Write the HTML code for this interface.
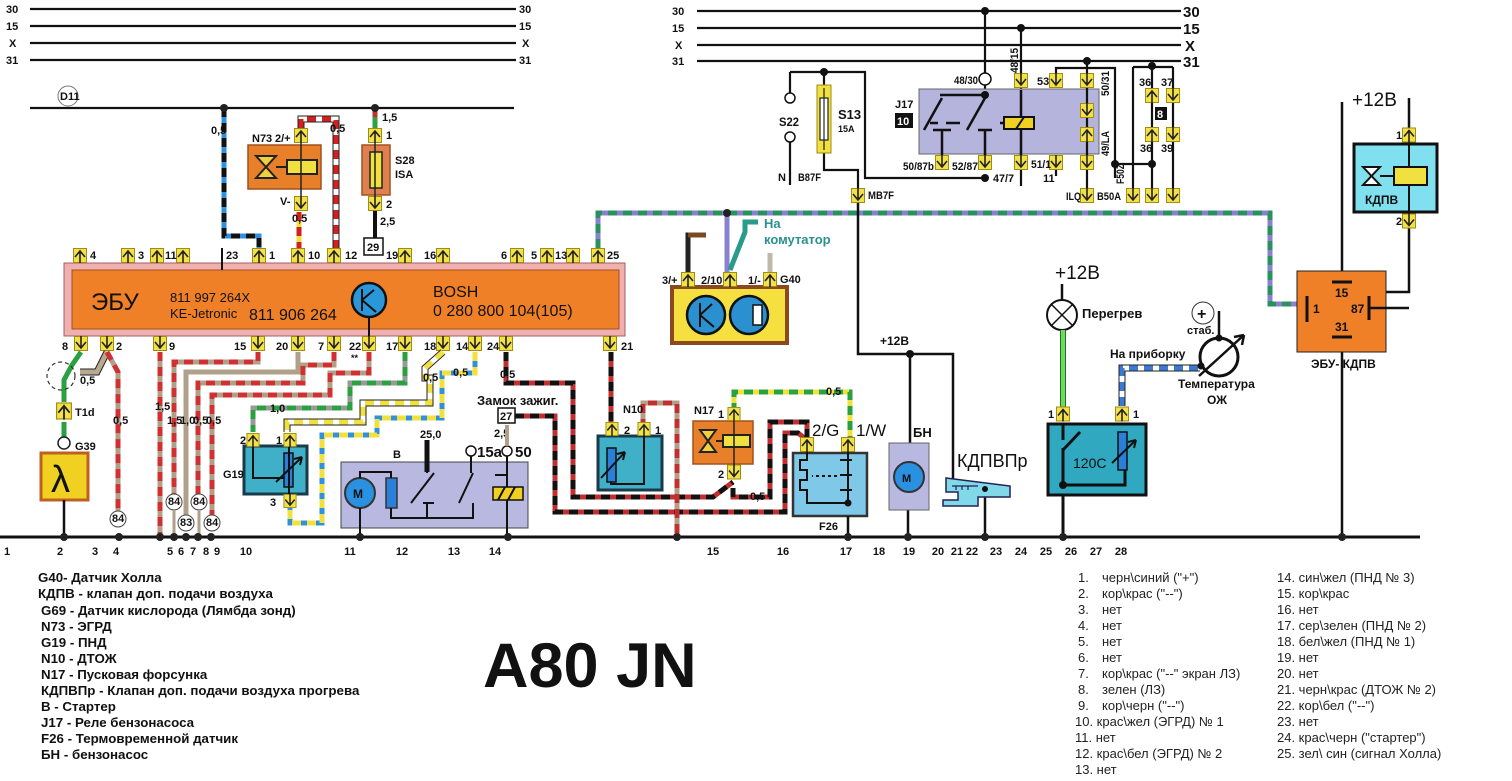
<!DOCTYPE html>
<html><head><meta charset="utf-8"><style>
html,body{margin:0;padding:0;background:#fff}
svg{display:block}
.a{fill:none;stroke-width:5}
.b{fill:none;stroke-width:5;stroke-dasharray:9 6}
.o{fill:none;stroke:#222;stroke-width:7}
.k{fill:none;stroke:#111;stroke-width:2.5}
.t{font-family:"Liberation Sans Narrow","Liberation Sans",sans-serif;font-weight:bold;font-size:11px;fill:#111}
.s{font-family:"Liberation Sans",sans-serif;fill:#111}
.lg{font-family:"Liberation Sans",sans-serif;font-weight:bold;font-size:13.3px;fill:#111}
.rg{font-family:"Liberation Sans",sans-serif;font-size:13px;fill:#222}
</style></head><body>
<svg width="1512" height="781" viewBox="0 0 1512 781" xmlns="http://www.w3.org/2000/svg">
<defs>
<symbol id="pu" viewBox="0 0 14 15"><rect x=".5" y=".5" width="13" height="14" fill="#f3e14a" stroke="#a08c10"/><path d="M2,9L7,3L12,9M7,3V15" stroke="#222" stroke-width="1.6" fill="none"/></symbol>
<symbol id="pd" viewBox="0 0 14 15"><rect x=".5" y=".5" width="13" height="14" fill="#f3e14a" stroke="#a08c10"/><path d="M2,6L7,12L12,6M7,0V12" stroke="#222" stroke-width="1.6" fill="none"/></symbol>
</defs>
<rect width="1512" height="781" fill="#fff"/>

<!-- top-left bus -->
<path d="M30,9H516M30,26H516M30,43H516M30,60H516M30,108H514" stroke="#111" stroke-width="2.2"/>
<g class="t"><text x="6" y="13">30</text><text x="6" y="30">15</text><text x="9" y="47">X</text><text x="6" y="64">31</text>
<text x="519" y="13">30</text><text x="519" y="30">15</text><text x="522" y="47">X</text><text x="519" y="64">31</text></g>
<circle cx="68" cy="96" r="10" fill="none" stroke="#777" stroke-width="1"/><text x="60" y="100" class="t" font-size="10">D11</text>

<!-- top-right bus -->
<path d="M697,11H1181M697,28H1181M697,45H1181M697,61H1181" stroke="#111" stroke-width="2.2"/>
<g class="t"><text x="672" y="15">30</text><text x="672" y="32">15</text><text x="675" y="49">X</text><text x="672" y="65">31</text></g>
<g class="s" font-weight="bold" font-size="15"><text x="1183" y="17">30</text><text x="1183" y="34">15</text><text x="1185" y="51">X</text><text x="1183" y="67">31</text></g>

<!-- wires near ECU top -->
<path class="a" stroke="#3090e0" d="M224,108V236H259V248"/><path class="b" stroke="#111" d="M224,108V236H259V248"/>
<circle cx="224" cy="108" r="4" fill="#222"/>
<path class="o" d="M301,128V119H336V248"/><path class="a" stroke="#fff" d="M301,128V119H336V248"/><path class="b" stroke="#d02020" d="M301,128V119H336V248"/>
<path class="a" stroke="#f0e040" d="M299,212V248"/><path class="b" stroke="#d02020" d="M299,212V248"/>
<path class="a" stroke="#30a040" d="M375,108V128"/><path class="b" stroke="#c03030" d="M375,108V120"/>
<circle cx="375" cy="108" r="4" fill="#222"/>
<path d="M375,211V238" stroke="#111" stroke-width="4"/>
<text x="211" y="134" class="t" font-size="9">0,5</text><text x="330" y="132" class="t" font-size="9">0,5</text>
<text x="292" y="222" class="t" font-size="9">0,5</text><text x="382" y="121" class="t" font-size="9">1,5</text><text x="380" y="225" class="t" font-size="9">2,5</text>

<!-- N73 -->
<rect x="248" y="145" width="73" height="44" fill="#e8802a" stroke="#a05020" stroke-width="1.5"/>
<path d="M256,156L276,178H256L276,156Z" fill="#f0d040" stroke="#222" stroke-width="2"/>
<path d="M276,167H287" stroke="#222" stroke-width="2"/>
<rect x="287" y="160" width="30" height="14" fill="#f0e040" stroke="#222" stroke-width="2"/>
<path d="M301,142V196" stroke="#222" stroke-width="1.5"/>
<use href="#pu" x="294" y="128" width="14" height="15"/><use href="#pd" x="294" y="196" width="14" height="15"/>
<text x="252" y="142" class="t" font-size="12">N73</text><text x="275" y="142" class="t">2/+</text><text x="280" y="205" class="t">V-</text>
<!-- S28 -->
<rect x="362" y="145" width="28" height="50" fill="#e08050" stroke="#a05020" stroke-width="1.5"/>
<rect x="370" y="152" width="12" height="36" fill="#f0e040" stroke="#222" stroke-width="1.5"/>
<path d="M375,140V200" stroke="#222" stroke-width="1.5"/>
<use href="#pu" x="368" y="128" width="14" height="15"/><use href="#pd" x="368" y="196" width="14" height="15"/>
<text x="386" y="139" class="t">1</text><text x="386" y="208" class="t">2</text>
<text x="395" y="164" class="t" font-size="13">S28</text><text x="395" y="178" class="t" font-size="9">ISA</text>
<rect x="364" y="238" width="19" height="17" fill="#fff" stroke="#111" stroke-width="1.5"/><text x="367" y="251" class="t">29</text>

<!-- ECU -->
<rect x="64" y="263" width="561" height="73" fill="#f0b0b0" stroke="#a06060" stroke-width="1"/>
<rect x="72" y="270" width="547" height="59" fill="#f08028" stroke="#a05020" stroke-width="1"/>
<path d="M222,248V270" stroke="#111" stroke-width="2"/>
<g>
<use href="#pu" x="73" y="248" width="14" height="15"/><use href="#pu" x="121" y="248" width="14" height="15"/>
<use href="#pu" x="150" y="248" width="14" height="15"/><use href="#pu" x="176" y="248" width="14" height="15"/>
<use href="#pu" x="252" y="248" width="14" height="15"/><use href="#pu" x="291" y="248" width="14" height="15"/>
<use href="#pu" x="327" y="248" width="14" height="15"/><use href="#pu" x="398" y="248" width="14" height="15"/>
<use href="#pu" x="436" y="248" width="14" height="15"/><use href="#pu" x="510" y="248" width="14" height="15"/>
<use href="#pu" x="540" y="248" width="14" height="15"/><use href="#pu" x="566" y="248" width="14" height="15"/>
<use href="#pu" x="591" y="248" width="14" height="15"/>
</g>
<g class="t" font-size="12">
<text x="90" y="259">4</text><text x="138" y="259">3</text><text x="165" y="259">11</text><text x="226" y="259">23</text>
<text x="269" y="259">1</text><text x="308" y="259">10</text><text x="345" y="259">12</text><text x="386" y="259">19</text>
<text x="424" y="259">16</text><text x="501" y="259">6</text><text x="531" y="259">5</text><text x="555" y="259">13</text><text x="607" y="259">25</text>
</g>
<g>
<use href="#pd" x="74" y="336" width="14" height="15"/><use href="#pd" x="100" y="336" width="14" height="15"/>
<use href="#pd" x="153" y="336" width="14" height="15"/><use href="#pd" x="251" y="336" width="14" height="15"/>
<use href="#pd" x="291" y="336" width="14" height="15"/><use href="#pd" x="327" y="336" width="14" height="15"/>
<use href="#pd" x="362" y="336" width="14" height="15"/><use href="#pd" x="398" y="336" width="14" height="15"/>
<use href="#pd" x="436" y="336" width="14" height="15"/><use href="#pd" x="468" y="336" width="14" height="15"/>
<use href="#pd" x="499" y="336" width="14" height="15"/><use href="#pd" x="603" y="336" width="14" height="15"/>
</g>
<g class="t" font-size="12">
<text x="62" y="350">8</text><text x="116" y="350">2</text><text x="169" y="350">9</text><text x="234" y="350">15</text>
<text x="276" y="350">20</text><text x="318" y="350">7</text><text x="349" y="350">22</text><text x="386" y="350">17</text>
<text x="424" y="350">18</text><text x="456" y="350">14</text><text x="487" y="350">24</text><text x="621" y="350">21</text>
<text x="351" y="361" font-size="9">**</text>
</g>
<text x="91" y="310" class="s" font-size="24">ЭБУ</text>
<text x="170" y="302" class="s" font-size="13">811 997 264X</text>
<text x="170" y="318" class="s" font-size="13">KE-Jetronic</text>
<text x="249" y="320" class="s" font-size="16">811 906 264</text>
<text x="433" y="297" class="s" font-size="16">BOSH</text>
<text x="433" y="316" class="s" font-size="16">0 280 800 104(105)</text>
<circle cx="369" cy="300" r="17" fill="#2a98d8" stroke="#111" stroke-width="2.5"/>
<path d="M362,289V311M362,300L374,290M362,300L376,312" stroke="#111" stroke-width="2" fill="none"/>
<path d="M369,317V336" stroke="#111" stroke-width="2"/>

<!-- Left-bottom wires -->
<path d="M81,352L72,365L64,380V402" class="a" stroke="#2aa040"/>
<path d="M64,422V438" class="a" stroke="#2aa040"/>
<circle cx="61" cy="376" r="14" fill="none" stroke="#333" stroke-width="1.2" stroke-dasharray="4 3"/>
<use href="#pu" x="56" y="400" width="16" height="22"/>
<text x="75" y="416" class="t" font-size="12">T1d</text>
<circle cx="64" cy="443" r="6" fill="#fff" stroke="#222" stroke-width="1.5"/>
<text x="75" y="450" class="t" font-size="13">G39</text>
<rect x="41" y="453" width="47" height="47" fill="#f0d020" stroke="#c06020" stroke-width="3"/>
<text x="51" y="492" class="s" font-size="38">λ</text>
<path d="M64,500V537" stroke="#111" stroke-width="2.5"/>

<path class="o" d="M107,352L97,372H80" stroke-width="6"/><path class="a" stroke="#b8a890" stroke-width="4" d="M107,352L97,372H80"/>
<path class="a" stroke="#b0a08a" d="M107,352L118,372V511"/><path class="b" stroke="#d03030" d="M107,352L118,372V511"/>
<text x="80" y="384" class="t" font-size="9">0,5</text><text x="113" y="424" class="t" font-size="9">0,5</text>
<path class="a" stroke="#b0a08a" d="M160,352V537"/><path class="b" stroke="#d03030" d="M160,352V537"/>
<path class="a" stroke="#b0a08a" d="M258,352V362H174V494"/><path class="b" stroke="#d03030" d="M258,352V362H174V494"/>
<path class="a" stroke="#b0a08a" d="M298,352V372H186V515"/>
<path class="a" stroke="#b0a08a" d="M334,352V365H303V383H198V494"/><path class="b" stroke="#d03030" d="M334,352V365H303V383H198V494"/>
<path class="a" stroke="#b0a08a" d="M369,352V373H330V395H212V515"/><path class="b" stroke="#d03030" d="M369,352V373H330V395H212V515"/>
<g class="t" font-size="8"><text x="155" y="410">1,5</text><text x="167" y="424">1,5</text><text x="180" y="424">1,0</text><text x="193" y="424">0,5</text><text x="206" y="424">0,5</text></g>
<g fill="#fff" stroke="#444" stroke-width="1">
<circle cx="118" cy="519" r="8"/><circle cx="174" cy="502" r="8"/><circle cx="186" cy="523" r="8"/><circle cx="199" cy="502" r="8"/><circle cx="212" cy="523" r="8"/></g>
<g class="t" font-size="9"><text x="112" y="522">84</text><text x="168" y="505">84</text><text x="180" y="526">83</text><text x="193" y="505">84</text><text x="206" y="526">84</text></g>
<path d="M174,510V537M199,510V537" stroke="#b0a08a" stroke-width="3"/>

<!-- G19 wires -->
<path class="a" stroke="#999" d="M405,352V383H350V408H253V432"/><path class="b" stroke="#2aa040" d="M405,352V383H350V408H253V432"/>
<text x="270" y="412" class="t" font-size="9">1,0</text>
<path class="o" d="M443,352L425,368V378H430V403H363V422H287V432"/><path class="a" stroke="#fff" d="M443,352L425,368V378H430V403H363V422H287V432"/><path class="b" stroke="#f0e040" d="M443,352L425,368V378H430V403H363V422H287V432"/>
<path class="a" stroke="#3090e0" d="M475,352V373H442V418H377V435H322V523H290V508"/><path class="b" stroke="#f0e040" d="M475,352V373H442V418H377V435H322V523H290V508"/>
<text x="423" y="381" class="t" font-size="9">0,5</text><text x="453" y="376" class="t" font-size="9">0,5</text>
<rect x="244" y="446" width="63" height="48" fill="#40b0c8" stroke="#1a3a4a" stroke-width="3"/>
<path d="M253,446V478H284" stroke="#111" stroke-width="2" fill="none"/>
<rect x="284" y="453" width="9" height="34" fill="#2a80d8" stroke="#111" stroke-width="1.5"/>
<path d="M276,482L302,457M302,457l-8,2M302,457l-2,8M289,446V494" stroke="#111" stroke-width="2" fill="none"/>
<use href="#pu" x="246" y="433" width="14" height="14"/><use href="#pu" x="283" y="433" width="14" height="14"/><use href="#pd" x="283" y="494" width="14" height="14"/>
<text x="240" y="444" class="t" font-size="12">2</text><text x="276" y="444" class="t" font-size="12">1</text><text x="270" y="506" class="t" font-size="12">3</text>
<text x="223" y="478" class="t" font-size="13">G19</text>

<!-- Starter B -->
<rect x="341" y="462" width="187" height="66" fill="#b8b8e0" stroke="#444" stroke-width="1"/>
<circle cx="360" cy="493" r="15" fill="#2a90e0" stroke="#333" stroke-width="2"/>
<text x="353" y="498" class="s" font-size="12" font-weight="bold">M</text>
<rect x="386" y="478" width="11" height="30" fill="#2a80d8" stroke="#333" stroke-width="1.5"/>
<path d="M360,478V472H391V478M391,508V518H473V503M360,508V537M427,518V503M423,503H434M411,503L434,473M427,440V473M471,456V473M459,503L473,473M507,456V487M507,500V537M507,475H495" stroke="#111" stroke-width="2" fill="none"/>
<path d="M427,440V472" stroke="#111" stroke-width="5"/>
<rect x="493" y="487" width="30" height="13" fill="#f0d020" stroke="#111" stroke-width="1.5"/>
<path d="M498,500L505,487M508,500L515,487" stroke="#111" stroke-width="2"/>
<circle cx="471" cy="451" r="5" fill="#fff" stroke="#111" stroke-width="1.5"/><circle cx="507" cy="451" r="5" fill="#fff" stroke="#111" stroke-width="1.5"/>
<text x="393" y="458" class="t" font-size="13">B</text>
<text x="477" y="457" class="s" font-size="15" font-weight="bold">15a</text><text x="515" y="457" class="s" font-size="15" font-weight="bold">50</text>
<text x="420" y="438" class="t" font-size="9">25,0</text><text x="494" y="437" class="t" font-size="9">2,5</text>
<path d="M507,425V446" stroke="#b0a08a" stroke-width="4"/>
<rect x="498" y="408" width="17" height="15" fill="#fff" stroke="#111" stroke-width="1.5"/><text x="500" y="420" class="t" font-size="12">27</text>
<text x="477" y="405" class="s" font-size="13" font-weight="bold">Замок зажиг.</text>

<!-- red/black wires -->
<path class="a" stroke="#c03030" d="M506,352V383H573V497H713L733,482"/><path class="b" stroke="#111" d="M506,352V383H573V497H713L733,482"/>
<path class="a" stroke="#c03030" d="M515,416H555V512H785V433H798L807,440"/><path class="b" stroke="#111" d="M515,416H555V512H785V433H798L807,440"/>
<path class="a" stroke="#c03030" d="M733,488V497H770V422H807V437"/><path class="b" stroke="#111" d="M733,488V497H770V422H807V437"/>
<path class="a" stroke="#c03030" d="M611,352V428"/><path class="b" stroke="#111" d="M611,352V428"/>
<path class="a" stroke="#b0a08a" d="M643,428V403H677V537"/><path class="b" stroke="#c03030" d="M643,428V403H677V537"/>
<path class="a" stroke="#f0e040" d="M734,412V392H850V437"/><path class="b" stroke="#2aa040" d="M734,412V392H850V437"/>
<text x="826" y="395" class="t" font-size="9">0,5</text><text x="750" y="500" class="t" font-size="9">0,5</text><text x="500" y="378" class="t" font-size="9">0,5</text>

<!-- N10 -->
<rect x="598" y="436" width="64" height="54" fill="#40b0c8" stroke="#1a3a4a" stroke-width="3"/>
<rect x="607" y="448" width="9" height="34" fill="#2a80d8" stroke="#111" stroke-width="1.5"/>
<path d="M601,478L625,452M625,452l-8,2M625,452l-2,8M611,482V484H644V436" stroke="#111" stroke-width="2" fill="none"/>
<use href="#pu" x="605" y="422" width="14" height="14"/><use href="#pu" x="637" y="422" width="14" height="14"/>
<text x="624" y="434" class="t" font-size="12">2</text><text x="655" y="434" class="t" font-size="12">1</text>
<text x="623" y="413" class="t" font-size="13">N10</text>
<!-- N17 -->
<rect x="693" y="421" width="60" height="43" fill="#e8802a" stroke="#a05020" stroke-width="1.5"/>
<path d="M700,430L716,452H700L716,430Z" fill="#f0d040" stroke="#222" stroke-width="2"/>
<path d="M716,441H723" stroke="#222" stroke-width="2"/>
<rect x="723" y="435" width="27" height="12" fill="#f0e040" stroke="#222" stroke-width="2"/>
<path d="M734,418V474" stroke="#222" stroke-width="1.5"/>
<use href="#pu" x="727" y="407" width="14" height="14"/><use href="#pd" x="727" y="464" width="14" height="16"/>
<text x="718" y="418" class="t" font-size="12">1</text><text x="718" y="478" class="t" font-size="12">2</text>
<text x="694" y="414" class="t" font-size="13">N17</text>
<!-- F26 -->
<rect x="793" y="453" width="74" height="63" fill="#80c8e8" stroke="#333" stroke-width="2.5"/>
<path d="M807,450V460H800V470H807V480H800V490H807V503H848V450M812,476H840M840,460H852M840,475H852M840,490H852" stroke="#111" stroke-width="2" fill="none"/>
<path d="M813,476H840" stroke="#80c8e8" stroke-width="2" stroke-dasharray="3 3"/>
<circle cx="848" cy="503" r="3.5" fill="#111"/>
<path d="M848,516V537" stroke="#111" stroke-width="2.5"/>
<use href="#pu" x="800" y="437" width="14" height="15"/><use href="#pu" x="841" y="437" width="14" height="15"/>
<text x="812" y="436" class="s" font-size="17">2/G</text><text x="856" y="436" class="s" font-size="17">1/W</text>
<text x="819" y="530" class="t" font-size="12">F26</text>

<!-- G40 and signal wires -->
<path class="a" stroke="#8a80d0" d="M598,248V213H1270V304H1307"/><path class="b" stroke="#2a9060" d="M598,248V213H1270V304H1307"/>
<path d="M727,213V272" stroke="#8a80d0" stroke-width="5"/>
<circle cx="727" cy="213" r="4" fill="#222"/>
<path d="M730,270L745,232V222H758" stroke="#2a9a8a" stroke-width="5" fill="none"/>
<text x="764" y="228" class="s" font-size="13" font-weight="bold" style="fill:#2a9090">На</text>
<text x="764" y="244" class="s" font-size="13" font-weight="bold" style="fill:#2a9090">комутатор</text>
<path class="a" stroke="#222" d="M688,272V235H706"/><path d="M688,235H706" stroke="#7a4a20" stroke-width="5"/>
<path d="M770,272V253" stroke="#c0b8a8" stroke-width="5"/>
<rect x="672" y="287" width="115" height="56" fill="#f5e040" stroke="#8a4a20" stroke-width="4"/>
<circle cx="706" cy="315" r="19" fill="#2a90d0" stroke="#111" stroke-width="2.5"/>
<circle cx="749" cy="315" r="19" fill="#2a90d0" stroke="#111" stroke-width="2.5"/>
<path d="M700,303V327M700,315L712,304M700,315L714,327" stroke="#111" stroke-width="2" fill="none"/>
<rect x="753" y="305" width="9" height="20" fill="#fff" stroke="#111" stroke-width="1.5"/>
<use href="#pu" x="681" y="272" width="14" height="15"/><use href="#pu" x="723" y="272" width="14" height="15"/><use href="#pu" x="763" y="272" width="14" height="15"/>
<text x="662" y="284" class="t" font-size="12">3/+</text><text x="701" y="284" class="t" font-size="12">2/10</text><text x="748" y="284" class="t" font-size="12">1/-</text><text x="780" y="283" class="t" font-size="13">G40</text>

<!-- +12B fuel pump / KDPVPr -->
<path d="M858,203V354H953V482M910,354V470M908,493V537M985,488V537" stroke="#111" stroke-width="2.5" fill="none"/>
<circle cx="910" cy="354" r="4" fill="#111"/>
<text x="880" y="345" class="s" font-size="12" font-weight="bold">+12В</text>
<rect x="889" y="443" width="40" height="67" fill="#b8b8e0" stroke="#666" stroke-width="1"/>
<circle cx="909" cy="477" r="15" fill="#2a90e0" stroke="#333" stroke-width="2"/>
<text x="902" y="482" class="s" font-size="11" font-weight="bold">M</text>
<text x="913" y="437" class="s" font-size="13" font-weight="bold">БН</text>
<text x="957" y="467" class="s" font-size="18">КДПВПр</text>
<path d="M946,478L1010,486V497H978V506H943V500H958V492H946Z" fill="#80d8e8" stroke="#225" stroke-width="1.5"/>
<path d="M952,486H978M956,490V486M962,490V486M968,490V486" stroke="#225" stroke-width="1.2"/>
<circle cx="985" cy="489" r="3" fill="#111"/>

<!-- J17 area -->
<path d="M985,11V73M985,85V156M1021,28V186M1087,61V188M1056,73V68H1115V178M1115,164H1152M1133,67H1173M1133,67V188M1152,67V188M1173,67V188M1056,170V176M790,72H865V178H985M790,72V93M790,142V185M824,72V85M824,153V170H858V190M940,95H985" stroke="#111" stroke-width="2.2" fill="none"/>
<rect x="919" y="89" width="180" height="65" fill="#b4b4dc" stroke="#666" stroke-width="1"/>
<path d="M940,95H985M942,156V130M933,130H951M924,130L942,98M985,156V130M978,130H992M967,130L985,98M930,123H938M946,123H960M1021,90V156M1000,123H1004" stroke="#111" stroke-width="2.5" fill="none"/>
<rect x="1004" y="117" width="30" height="12" fill="#f0d020" stroke="#111" stroke-width="2"/>
<path d="M1016,129L1024,117" stroke="#111" stroke-width="2"/>
<path d="M1087,88V156" stroke="#111" stroke-width="2.2"/>
<circle cx="985" cy="79" r="6" fill="#fff" stroke="#111" stroke-width="1.5"/>
<g fill="#111"><circle cx="985" cy="11" r="4"/><circle cx="1021" cy="28" r="4"/><circle cx="1087" cy="61" r="4"/><circle cx="985" cy="95" r="4"/><circle cx="985" cy="178" r="4"/><circle cx="1115" cy="164" r="4"/><circle cx="1152" cy="164" r="4"/><circle cx="1152" cy="66" r="4"/><circle cx="824" cy="72" r="4"/></g>
<use href="#pd" x="1014" y="73" width="14" height="15"/><use href="#pd" x="1049" y="73" width="14" height="15"/><use href="#pd" x="1080" y="73" width="14" height="15"/>
<use href="#pd" x="1080" y="103" width="14" height="15"/><use href="#pu" x="1080" y="127" width="14" height="15"/>
<use href="#pd" x="935" y="155" width="14" height="15"/><use href="#pd" x="978" y="155" width="14" height="15"/><use href="#pd" x="1014" y="155" width="14" height="15"/><use href="#pd" x="1049" y="155" width="14" height="15"/><use href="#pd" x="1080" y="155" width="14" height="15"/>
<use href="#pd" x="1080" y="188" width="14" height="15"/><use href="#pd" x="1126" y="188" width="14" height="15"/><use href="#pd" x="1145" y="188" width="14" height="15"/><use href="#pd" x="1166" y="188" width="14" height="15"/>
<use href="#pu" x="1145" y="88" width="14" height="15"/><use href="#pd" x="1166" y="88" width="14" height="15"/><use href="#pu" x="1145" y="127" width="14" height="15"/><use href="#pd" x="1166" y="127" width="14" height="15"/>
<rect x="1155" y="107" width="12" height="13" fill="#111"/><text x="1157" y="118" class="t" font-size="10" style="fill:#fff">8</text>
<text x="895" y="108" class="t" font-size="13">J17</text>
<rect x="895" y="113" width="18" height="15" fill="#111"/><text x="897" y="125" class="t" style="fill:#fff">10</text>
<g class="t" font-size="10">
<text x="954" y="84" textLength="24" lengthAdjust="spacingAndGlyphs">48/30</text><text x="1037" y="85">53</text>
<text x="903" y="170" textLength="31" lengthAdjust="spacingAndGlyphs">50/87b</text><text x="952" y="170" textLength="26" lengthAdjust="spacingAndGlyphs">52/87</text>
<text x="993" y="182" textLength="21" lengthAdjust="spacingAndGlyphs">47/7</text>
<text x="1031" y="168" textLength="20" lengthAdjust="spacingAndGlyphs">51/1</text><text x="1043" y="182">11</text>
<text x="1066" y="200" textLength="15" lengthAdjust="spacingAndGlyphs">ILQ</text><text x="1097" y="200" textLength="24" lengthAdjust="spacingAndGlyphs">B50A</text>
<text x="1139" y="86">36</text><text x="1161" y="86">37</text><text x="1140" y="152">36</text><text x="1161" y="152">39</text>
<text transform="translate(1018,73) rotate(-90)" textLength="25" lengthAdjust="spacingAndGlyphs">48/15</text><text transform="translate(1109,96) rotate(-90)" textLength="25" lengthAdjust="spacingAndGlyphs">50/31</text>
<text transform="translate(1109,156) rotate(-90)" textLength="25" lengthAdjust="spacingAndGlyphs">49/LA</text><text transform="translate(1124,184) rotate(-90)" textLength="20" lengthAdjust="spacingAndGlyphs">F50Z</text>
<text x="779" y="126" font-size="12" textLength="20" lengthAdjust="spacingAndGlyphs">S22</text><text x="778" y="181">N</text><text x="798" y="181" textLength="23" lengthAdjust="spacingAndGlyphs">B87F</text><text x="868" y="199" textLength="26" lengthAdjust="spacingAndGlyphs">MB7F</text>
<text x="838" y="119" font-size="13">S13</text><text x="838" y="132" font-size="9">15A</text>
</g>
<circle cx="790" cy="98" r="5" fill="#fff" stroke="#111" stroke-width="1.5"/><circle cx="790" cy="137" r="5" fill="#fff" stroke="#111" stroke-width="1.5"/>
<rect x="817" y="85" width="14" height="68" fill="#f0e040" stroke="#a08c10"/><rect x="820" y="98" width="8" height="42" fill="#fff" stroke="#222" stroke-width="1.2"/>
<path d="M824,88V150" stroke="#222" stroke-width="1.2"/>
<use href="#pd" x="851" y="188" width="14" height="15"/>

<!-- right side -->
<text x="1352" y="106" class="s" font-size="19">+12В</text>
<path d="M1342,102V271M1409,98V128M1409,228V292H1369M1342,352V537M1342,271V282" stroke="#111" stroke-width="2.5" fill="none"/>
<rect x="1354" y="144" width="83" height="68" fill="#80e0f0" stroke="#111" stroke-width="3"/>
<path d="M1409,144V212M1380,176H1394" stroke="#111" stroke-width="2"/>
<path d="M1363,167L1380,185H1363L1380,167Z" fill="#fff" stroke="#111" stroke-width="2"/>
<rect x="1394" y="167" width="33" height="18" fill="#f0e040" stroke="#111" stroke-width="2"/>
<text x="1365" y="204" class="s" font-size="12" font-weight="bold">КДПВ</text>
<use href="#pu" x="1402" y="127" width="14" height="16"/><use href="#pd" x="1402" y="213" width="14" height="16"/>
<text x="1396" y="139" class="t">1</text><text x="1396" y="225" class="t">2</text>
<rect x="1297" y="271" width="89" height="81" fill="#f08028" stroke="#222" stroke-width="1"/>
<path d="M1332,282H1352M1307,296V322M1369,296V320M1332,337H1352" stroke="#111" stroke-width="3"/>
<g class="s" font-size="12" font-weight="bold"><text x="1335" y="297">15</text><text x="1313" y="313">1</text><text x="1351" y="313">87</text><text x="1335" y="331">31</text><text x="1311" y="368">ЭБУ- КДПВ</text></g>
<path d="M1369,308H1409" stroke="#111" stroke-width="2.5"/>

<text x="1055" y="279" class="s" font-size="19">+12В</text>
<path d="M1062,284V300" stroke="#111" stroke-width="2.5"/>
<circle cx="1062" cy="315" r="15" fill="#fff" stroke="#111" stroke-width="2"/>
<path d="M1052,305L1072,325M1072,305L1052,325" stroke="#111" stroke-width="1.5"/>
<text x="1082" y="318" class="s" font-size="13" font-weight="bold">Перегрев</text>
<path d="M1063,330V407" stroke="#2a6a2a" stroke-width="6"/><path d="M1063,330V407" stroke="#6ddc5a" stroke-width="4"/>
<rect x="1048" y="424" width="98" height="71" fill="#30a8c0" stroke="#111" stroke-width="3"/>
<path d="M1063,424V440M1063,450L1080,432M1063,448V485H1125V470M1063,495V537" stroke="#111" stroke-width="3" fill="none"/>
<circle cx="1063" cy="485" r="4" fill="#111"/>
<rect x="1118" y="432" width="9" height="38" fill="#2a80d8" stroke="#111" stroke-width="1.5"/>
<path d="M1112,463L1136,440M1136,440l-8,2M1136,440l-2,8" stroke="#111" stroke-width="2" fill="none"/>
<text x="1073" y="468" class="s" font-size="14">120C</text>
<use href="#pu" x="1056" y="406" width="14" height="16"/><use href="#pu" x="1115" y="406" width="14" height="16"/>
<text x="1048" y="418" class="t">1</text><text x="1133" y="418" class="t">1</text>
<path class="o" d="M1122,406V368H1200" stroke-width="6"/><path class="a" stroke="#fff" stroke-width="4" d="M1122,406V368H1200"/><path class="b" stroke="#3a7ad0" stroke-width="4" d="M1122,406V368H1200"/>
<text x="1110" y="358" class="s" font-size="12" font-weight="bold">На приборку</text>
<circle cx="1219" cy="357" r="19" fill="#fff" stroke="#111" stroke-width="3"/>
<path d="M1199,376L1244,335M1244,335l-10,2M1244,335l-2,10M1219,311V338" stroke="#111" stroke-width="2.5" fill="none"/>
<circle cx="1201" cy="366" r="3.5" fill="#111"/><circle cx="1219" cy="338" r="3.5" fill="#111"/>
<circle cx="1203" cy="313" r="11" fill="#fff" stroke="#333" stroke-width="1"/>
<text x="1197" y="319" class="s" font-size="16" font-weight="bold">+</text>
<text x="1187" y="334" class="s" font-size="11" font-weight="bold">стаб.</text>
<text x="1178" y="388" class="s" font-size="12" font-weight="bold">Температура</text>
<text x="1207" y="404" class="s" font-size="12" font-weight="bold">ОЖ</text>

<!-- ground line -->
<path d="M0,537H1420" stroke="#111" stroke-width="3"/>
<g fill="#222"><circle cx="64" cy="537" r="4"/><circle cx="119" cy="537" r="4"/><circle cx="160" cy="537" r="4"/><circle cx="174" cy="537" r="4"/><circle cx="186" cy="537" r="4"/><circle cx="198" cy="537" r="4"/><circle cx="211" cy="537" r="4"/><circle cx="360" cy="537" r="4"/><circle cx="508" cy="537" r="4"/><circle cx="677" cy="537" r="4"/><circle cx="848" cy="537" r="4"/><circle cx="908" cy="537" r="4"/><circle cx="985" cy="537" r="4"/><circle cx="1063" cy="537" r="4"/><circle cx="1342" cy="537" r="4"/></g>
<g class="t" font-size="12" text-anchor="middle">
<text x="7" y="555">1</text><text x="60" y="555">2</text><text x="95" y="555">3</text><text x="116" y="555">4</text><text x="170" y="555">5</text><text x="181" y="555">6</text><text x="193" y="555">7</text><text x="206" y="555">8</text><text x="217" y="555">9</text><text x="246" y="555">10</text><text x="350" y="555">11</text><text x="402" y="555">12</text><text x="454" y="555">13</text><text x="495" y="555">14</text>
<text x="713" y="555">15</text><text x="783" y="555">16</text><text x="846" y="555">17</text><text x="879" y="555">18</text><text x="909" y="555">19</text><text x="938" y="555">20</text><text x="957" y="555">21</text><text x="972" y="555">22</text><text x="996" y="555">23</text><text x="1021" y="555">24</text><text x="1046" y="555">25</text><text x="1071" y="555">26</text><text x="1096" y="555">27</text><text x="1121" y="555">28</text>
</g>

<!-- legend left -->
<g class="lg">
<text x="38" y="582">G40- Датчик Холла</text>
<text x="38" y="598">КДПВ - клапан доп. подачи воздуха</text>
<text x="41" y="615">G69 - Датчик кислорода (Лямбда зонд)</text>
<text x="41" y="631">N73 - ЭГРД</text>
<text x="41" y="647">G19 - ПНД</text>
<text x="41" y="663">N10 - ДТОЖ</text>
<text x="41" y="679">N17 - Пусковая форсунка</text>
<text x="41" y="695">КДПВПр - Клапан доп. подачи воздуха прогрева</text>
<text x="41" y="711">B - Стартер</text>
<text x="41" y="727">J17 - Реле бензонасоса</text>
<text x="41" y="743">F26 - Термовременной датчик</text>
<text x="41" y="759">БН - бензонасос</text>
</g>
<text x="483" y="687" class="s" font-size="63" font-weight="bold">A80 JN</text>

<!-- legend right -->
<g class="rg">
<text x="1078" y="582">1.</text><text x="1102" y="582">черн\синий  ("+")</text>
<text x="1078" y="598">2.</text><text x="1102" y="598">кор\крас ("--")</text>
<text x="1078" y="614">3.</text><text x="1102" y="614">нет</text>
<text x="1078" y="630">4.</text><text x="1102" y="630">нет</text>
<text x="1078" y="646">5.</text><text x="1102" y="646">нет</text>
<text x="1078" y="662">6.</text><text x="1102" y="662">нет</text>
<text x="1078" y="678">7.</text><text x="1102" y="678">кор\крас ("--" экран ЛЗ)</text>
<text x="1078" y="694">8.</text><text x="1102" y="694">зелен (ЛЗ)</text>
<text x="1078" y="710">9.</text><text x="1102" y="710">кор\черн ("--")</text>
<text x="1075" y="726">10. крас\жел (ЭГРД) № 1</text>
<text x="1075" y="742">11. нет</text>
<text x="1075" y="758">12. крас\бел (ЭГРД) № 2</text>
<text x="1075" y="774">13. нет</text>
<text x="1277" y="582">14. син\жел (ПНД № 3)</text>
<text x="1277" y="598">15. кор\крас</text>
<text x="1277" y="614">16. нет</text>
<text x="1277" y="630">17. сер\зелен (ПНД № 2)</text>
<text x="1277" y="646">18. бел\жел (ПНД № 1)</text>
<text x="1277" y="662">19. нет</text>
<text x="1277" y="678">20. нет</text>
<text x="1277" y="694">21. черн\крас (ДТОЖ № 2)</text>
<text x="1277" y="710">22. кор\бел ("--")</text>
<text x="1277" y="726">23. нет</text>
<text x="1277" y="742">24. крас\черн ("стартер")</text>
<text x="1277" y="758">25. зел\ син (сигнал Холла)</text>
</g>
</svg>
</body></html>
